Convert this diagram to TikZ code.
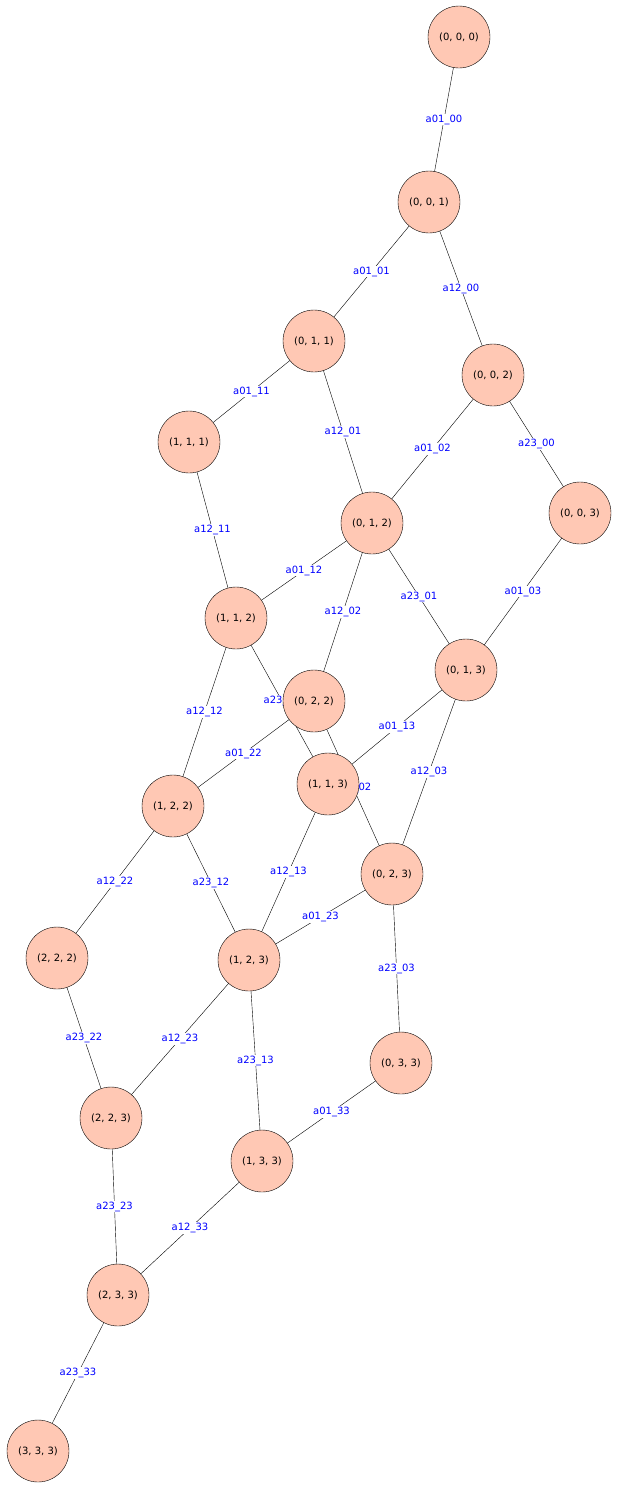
\documentclass[tikz,border=0pt]{standalone}
\usepackage{fontspec}
\setmainfont{DejaVu Sans}
\begin{document}
\begin{tikzpicture}[x=1pt,y=-1pt,
 vtx/.style={circle,draw,fill={rgb,255:red,255;green,200;blue,180},minimum size=62pt,inner sep=0pt,font=\fontsize{10}{12}\selectfont},
 lbl/.style={fill=white,inner sep=1pt,text={rgb,255:red,0;green,0;blue,255},font=\fontsize{10}{12}\selectfont}]
\useasboundingbox (0,0) rectangle (616,1489);
\foreach \n/\x/\y in {000/459/37,001/429/202,011/314/341,002/493/375,111/189/442,012/372/523,003/580/513,112/236/618,013/466/670,022/314/701,113/328/784,122/173/806,023/392/874,222/57/958,123/249/960,033/401/1063,223/111/1118,133/262/1161,233/118/1295,333/38/1451}
  \coordinate (c\n) at (\x,\y);
\foreach \a/\b/\t in {000/001/a01\_00,001/011/a01\_01,001/002/a12\_00,011/111/a01\_11,011/012/a12\_01,002/012/a01\_02,002/003/a23\_00,111/112/a12\_11,012/112/a01\_12,012/022/a12\_02,012/013/a23\_01,003/013/a01\_03,112/122/a12\_12,112/113/a23\_11,013/113/a01\_13,013/023/a12\_03,022/122/a01\_22,022/023/a23\_02,113/123/a12\_13,122/222/a12\_22,122/123/a23\_12,023/123/a01\_23,023/033/a23\_03,222/223/a23\_22,123/223/a12\_23,123/133/a23\_13,033/133/a01\_33,223/233/a23\_23,133/233/a12\_33,233/333/a23\_33}
  \draw (c\a) -- node[lbl]{\t} (c\b);
\foreach \n/\s in {000/{(0, 0, 0)},001/{(0, 0, 1)},011/{(0, 1, 1)},002/{(0, 0, 2)},111/{(1, 1, 1)},012/{(0, 1, 2)},003/{(0, 0, 3)},112/{(1, 1, 2)},013/{(0, 1, 3)},022/{(0, 2, 2)},113/{(1, 1, 3)},122/{(1, 2, 2)},023/{(0, 2, 3)},222/{(2, 2, 2)},123/{(1, 2, 3)},033/{(0, 3, 3)},223/{(2, 2, 3)},133/{(1, 3, 3)},233/{(2, 3, 3)},333/{(3, 3, 3)}}
  \node[vtx] (n\n) at (c\n) {\s};
\end{tikzpicture}
\end{document}
